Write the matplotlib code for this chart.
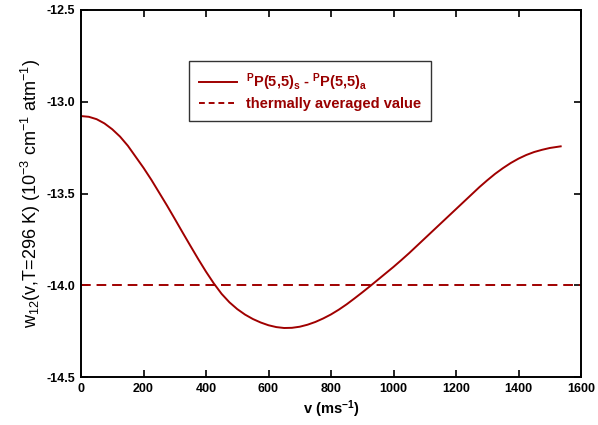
import matplotlib
matplotlib.use("Agg")
import matplotlib.pyplot as plt
from matplotlib.lines import Line2D

plt.rcParams['font.family'] = ['Liberation Sans', 'DejaVu Sans']
plt.rcParams['mathtext.default'] = 'regular'

# Data
v = [0, 25, 50, 75, 100, 125, 150, 175, 200, 225, 250, 275, 300, 325, 350,
     375, 400, 425, 450, 475, 500, 525, 550, 575, 600, 625, 650, 675, 700,
     725, 750, 775, 800, 825, 850, 875, 900, 925, 950, 975, 1000, 1025,
     1050, 1075, 1100, 1125, 1150, 1175, 1200, 1225, 1250, 1275, 1300,
     1325, 1350, 1375, 1400, 1425, 1450, 1475, 1500, 1535]
w = [-13.078, -13.082, -13.095, -13.118, -13.150, -13.190, -13.240, -13.300,
     -13.360, -13.425, -13.495, -13.565, -13.638, -13.712, -13.785, -13.857,
     -13.926, -13.990, -14.047, -14.093, -14.130, -14.160, -14.184, -14.203,
     -14.218, -14.228, -14.233, -14.232, -14.226, -14.215, -14.200, -14.181,
     -14.159, -14.133, -14.104, -14.072, -14.039, -14.005, -13.970, -13.935,
     -13.900, -13.863, -13.825, -13.785, -13.745, -13.705, -13.665, -13.625,
     -13.585, -13.545, -13.505, -13.465, -13.428, -13.393, -13.362, -13.334,
     -13.310, -13.290, -13.274, -13.262, -13.252, -13.243]
avg_value = -14.0
xticks = [0, 200, 400, 600, 800, 1000, 1200, 1400, 1600]
yticks = [-12.5, -13.0, -13.5, -14.0, -14.5]

line_color = '#A00000'
text_color = '#990000'

fig = plt.figure(figsize=(5.98, 4.25), dpi=100)
ax = fig.add_axes([81/598, 1-377/425, 500/598, 367/425])

ax.plot(v, w, color=line_color, lw=1.4, solid_joinstyle='round')
ax.axhline(avg_value, color=line_color, lw=1.4, ls=(0, (5, 3)))

ax.set_xlim(0, 1600)
ax.set_ylim(-14.5, -12.5)
ax.set_xticks(xticks)
ax.set_yticks(yticks)
ax.set_xticklabels([str(t) for t in xticks], fontweight='bold', fontsize=9)
ax.set_yticklabels([f"{t:.1f}" for t in yticks], fontweight='bold', fontsize=9)
ax.tick_params(direction='in', top=True, right=True, length=5, width=1.2,
               labeltop=False, labelright=False, pad=4)
for s in ax.spines.values():
    s.set_linewidth(1.4)

ax.set_xlabel(r"v (ms$^{-1}$)", fontsize=10.5, fontweight='bold', labelpad=3)
ax.set_ylabel(r"w$_{12}$(v,T=296 K) (10$^{-3}$ cm$^{-1}$ atm$^{-1}$)",
              fontsize=13, labelpad=3)

handles = [Line2D([], [], color=line_color, lw=1.4),
           Line2D([], [], color=line_color, lw=1.4, ls=(0, (3, 2)))]
labels = [r"$^{P}$P(5,5)$_{s}$ - $^{P}$P(5,5)$_{a}$", "thermally averaged value"]
leg = ax.legend(handles, labels, loc='upper left',
                bbox_to_anchor=(189/598, 1-61/425), bbox_transform=fig.transFigure,
                fancybox=False, edgecolor='#333333', framealpha=1,
                prop={'weight': 'bold', 'size': 10.5},
                handlelength=2.6, handletextpad=0.6, borderpad=0.7,
                labelspacing=0.3, borderaxespad=0)
leg.get_frame().set_linewidth(1.0)
for t in leg.get_texts():
    t.set_color(text_color)

fig.savefig("out.png", dpi=100)
